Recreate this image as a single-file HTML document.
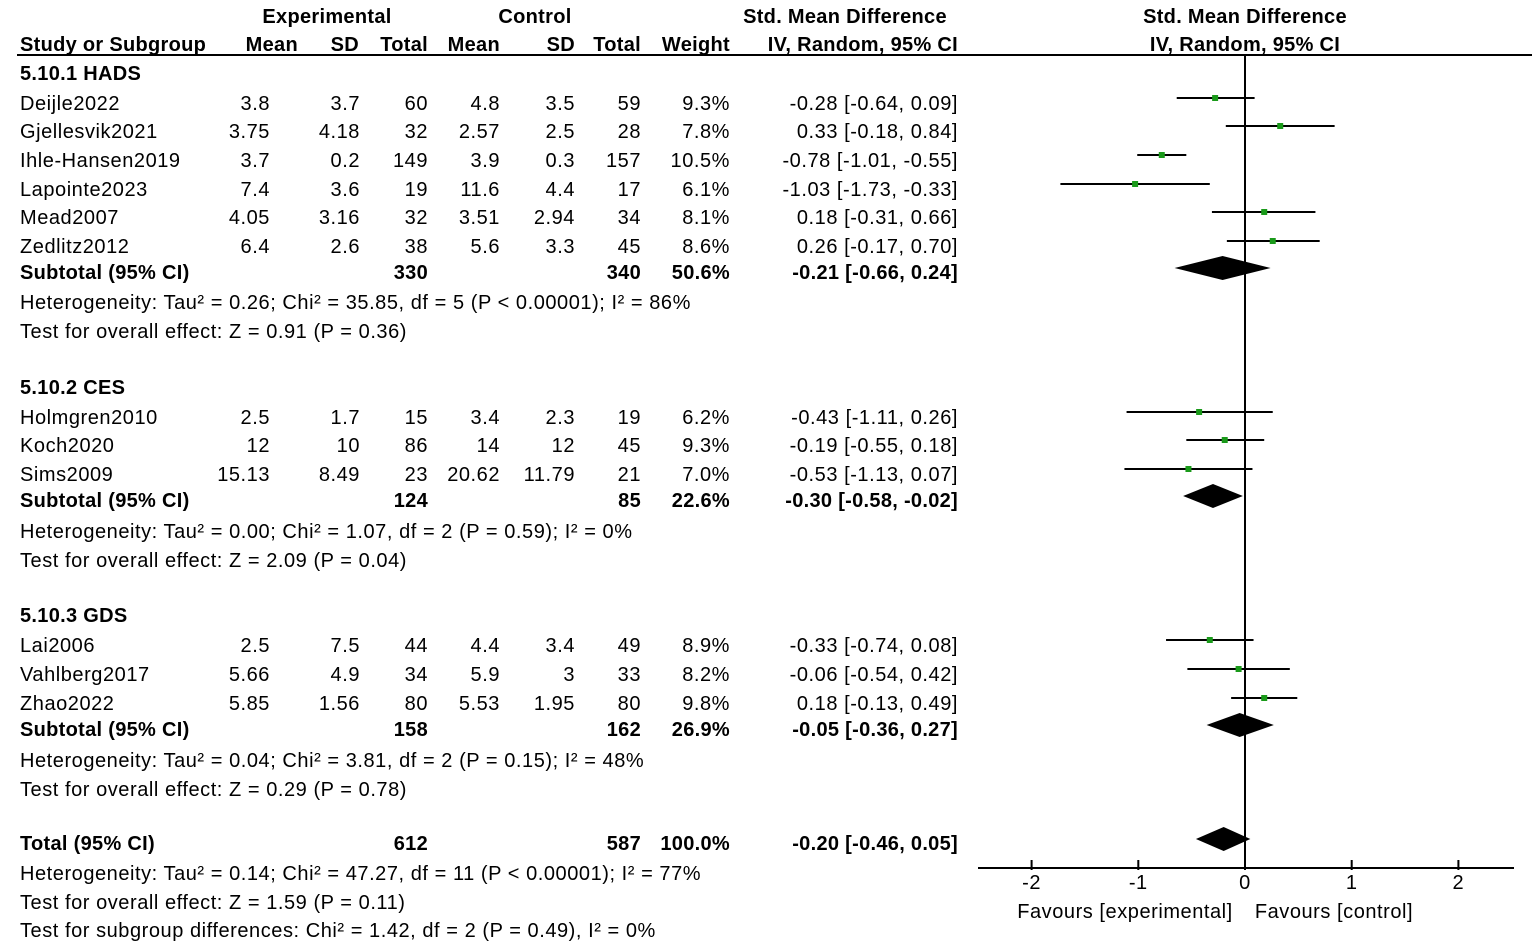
<!DOCTYPE html>
<html><head><meta charset="utf-8"><style>
html,body{margin:0;padding:0;background:#fff;}
svg{display:block;font-family:"Liberation Sans",Arial,sans-serif;font-size:20px;letter-spacing:0.55px;}
.b{font-weight:bold;letter-spacing:0.3px;}
</style></head><body>
<svg id="plot" width="1535" height="941" viewBox="0 0 1535 941">
<g id="txt"></g><g id="marks"></g>
</svg>
<script>
// Data
const studies = ["Deijle2022","Gjellesvik2021","Ihle-Hansen2019","Lapointe2023","Mead2007","Zedlitz2012","Holmgren2010","Koch2020","Sims2009","Lai2006","Vahlberg2017","Zhao2022"];
const expMean = ["3.8","3.75","3.7","7.4","4.05","6.4","2.5","12","15.13","2.5","5.66","5.85"];
const expSD = ["3.7","4.18","0.2","3.6","3.16","2.6","1.7","10","8.49","7.5","4.9","1.56"];
const expN = ["60","32","149","19","32","38","15","86","23","44","34","80"];
const ctlMean = ["4.8","2.57","3.9","11.6","3.51","5.6","3.4","14","20.62","4.4","5.9","5.53"];
const ctlSD = ["3.5","2.5","0.3","4.4","2.94","3.3","2.3","12","11.79","3.4","3","1.95"];
const ctlN = ["59","28","157","17","34","45","19","45","21","49","33","80"];
const weights = ["9.3%","7.8%","10.5%","6.1%","8.1%","8.6%","6.2%","9.3%","7.0%","8.9%","8.2%","9.8%"];
const smd = [-0.28,0.33,-0.78,-1.03,0.18,0.26,-0.43,-0.19,-0.53,-0.33,-0.06,0.18];
const lo = [-0.64,-0.18,-1.01,-1.73,-0.31,-0.17,-1.11,-0.55,-1.13,-0.74,-0.54,-0.13];
const hi = [0.09,0.84,-0.55,-0.33,0.66,0.70,0.26,0.18,0.07,0.08,0.42,0.49];
const studyRowY = [103,131,160,189,217,246,417,445,474,645,674,703];
const subLabels = ["Subtotal (95% CI)","Subtotal (95% CI)","Subtotal (95% CI)","Total (95% CI)"];
const subExpN = ["330","124","158","612"];
const subCtlN = ["340","85","162","587"];
const subW = ["50.6%","22.6%","26.9%","100.0%"];
const subEst = [-0.21,-0.30,-0.05,-0.20];
const subLo = [-0.66,-0.58,-0.36,-0.46];
const subHi = [0.24,-0.02,0.27,0.05];
const subRowY = [272,500,729,843];
const ticks = [-2,-1,0,1,2];

const NS="http://www.w3.org/2000/svg";
const T=document.getElementById('txt'), M=document.getElementById('marks');
const xs = v => 1245 + v*106.7;
function fmt(v){return (v<0?"-":"")+Math.abs(v).toFixed(2);}
function ci(e,l,h){return fmt(e)+" ["+fmt(l)+", "+fmt(h)+"]";}
function text(x,y,s,anchor,bold,name){
  const t=document.createElementNS(NS,'text');
  t.setAttribute('x',x);t.setAttribute('y',y+7);
  if(anchor)t.setAttribute('text-anchor',anchor);
  if(bold)t.setAttribute('class','b');
  t.textContent=s;
  
  
  T.appendChild(t);return t;
}
function el(tag,attrs,name){
  const e=document.createElementNS(NS,tag);
  for(const k in attrs)e.setAttribute(k,attrs[k]);
  
  
  M.appendChild(e);return e;
}
// headers
text(327,16,"Experimental","middle",true,"experimental-header");
text(535,16,"Control","middle",true,"control-header");
text(845,16,"Std. Mean Difference","middle",true,"smd-header");
text(1245,16,"Std. Mean Difference","middle",true,"smd-plot-header");
text(20,44,"Study or Subgroup",null,true,"study-column-header");
[["Mean",298],["SD",359],["Total",428],["Mean",500],["SD",575],["Total",641],["Weight",730]].forEach(c=>text(c[1],44,c[0],"end",true,"column-header"));
text(958,44,"IV, Random, 95% CI","end",true,"ci-column-header");
text(1245,44,"IV, Random, 95% CI","middle",true,"plot-ci-header");
el('line',{x1:17,y1:55,x2:1532,y2:55,stroke:'#000','stroke-width':2},"header-rule");
// groups
text(20,73,"5.10.1 HADS",null,true,"group-title");
text(20,387,"5.10.2 CES",null,true,"group-title");
text(20,615,"5.10.3 GDS",null,true,"group-title");
// studies
studies.forEach((s,i)=>{
  const y=studyRowY[i];
  text(20,y,s,null,false,"study-name");
  text(270,y,expMean[i],"end",false,"exp-mean");
  text(360,y,expSD[i],"end",false,"exp-sd");
  text(428,y,expN[i],"end",false,"exp-total");
  text(500,y,ctlMean[i],"end",false,"ctl-mean");
  text(575,y,ctlSD[i],"end",false,"ctl-sd");
  text(641,y,ctlN[i],"end",false,"ctl-total");
  text(730,y,weights[i],"end",false,"weight");
  text(958,y,ci(smd[i],lo[i],hi[i]),"end",false,"study-ci");
  el('line',{x1:xs(lo[i]),y1:y-5,x2:xs(hi[i]),y2:y-5,stroke:'#000','stroke-width':2},"ci-line");
  el('rect',{x:xs(smd[i])-3,y:y-8,width:6,height:6,fill:'#1a9a1a'},"study-marker");
});
// subtotals
subLabels.forEach((s,i)=>{
  const y=subRowY[i];
  text(20,y,s,null,true,"subtotal-label");
  text(428,y,subExpN[i],"end",true,"subtotal-exp-total");
  text(641,y,subCtlN[i],"end",true,"subtotal-ctl-total");
  text(730,y,subW[i],"end",true,"subtotal-weight");
  text(958,y,ci(subEst[i],subLo[i],subHi[i]),"end",true,"subtotal-ci");
  const cy=y-4;
  el('polygon',{points:`${xs(subLo[i])},${cy} ${xs(subEst[i])},${cy-12} ${xs(subHi[i])},${cy} ${xs(subEst[i])},${cy+12}`,fill:'#000'},"subtotal-diamond");
});
// stats lines
[[302,"Heterogeneity: Tau² = 0.26; Chi² = 35.85, df = 5 (P < 0.00001); I² = 86%"],
 [331,"Test for overall effect: Z = 0.91 (P = 0.36)"],
 [531,"Heterogeneity: Tau² = 0.00; Chi² = 1.07, df = 2 (P = 0.59); I² = 0%"],
 [560,"Test for overall effect: Z = 2.09 (P = 0.04)"],
 [760,"Heterogeneity: Tau² = 0.04; Chi² = 3.81, df = 2 (P = 0.15); I² = 48%"],
 [789,"Test for overall effect: Z = 0.29 (P = 0.78)"],
 [873,"Heterogeneity: Tau² = 0.14; Chi² = 47.27, df = 11 (P < 0.00001); I² = 77%"],
 [902,"Test for overall effect: Z = 1.59 (P = 0.11)"],
 [930,"Test for subgroup differences: Chi² = 1.42, df = 2 (P = 0.49), I² = 0%"]
].forEach(r=>text(20,r[0],r[1],null,false,"statistics-text"));
// axis
el('line',{x1:xs(0),y1:56,x2:xs(0),y2:868,stroke:'#000','stroke-width':2},"zero-line");
el('line',{x1:978,y1:868,x2:1514,y2:868,stroke:'#000','stroke-width':2},"x-axis");
ticks.forEach(v=>{
  el('line',{x1:xs(v),y1:860,x2:xs(v),y2:870,stroke:'#000','stroke-width':2},"x-tick");
  text(xs(v),882,(v<0?"-":"")+Math.abs(v),"middle",false,"x-tick-label");
});
text(1125,911,"Favours [experimental]","middle",false,"favours-experimental");
text(1334,911,"Favours [control]","middle",false,"favours-control");
</script>
</body></html>
